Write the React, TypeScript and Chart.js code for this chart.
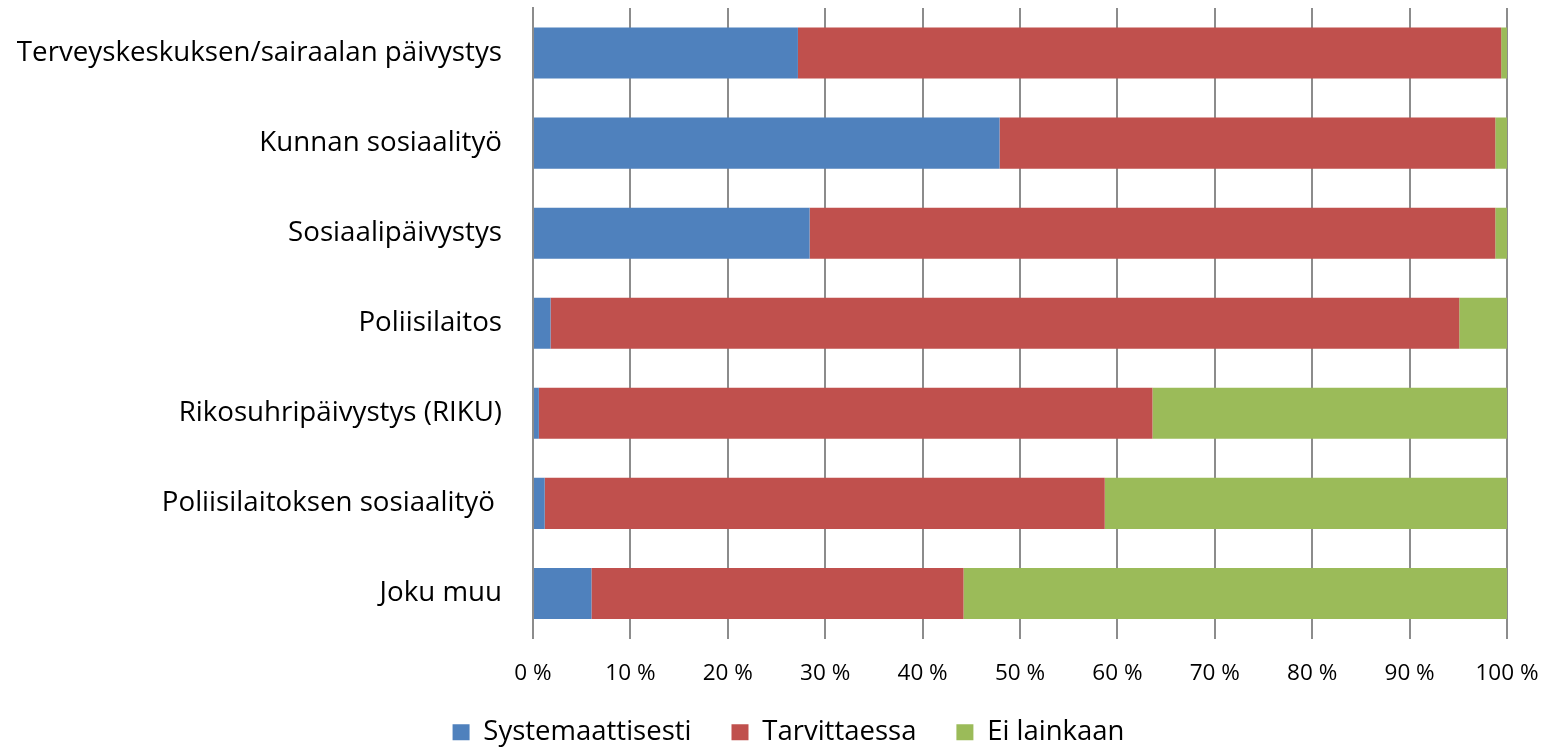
import React, { useEffect, useRef } from "react";
import { Chart, registerables } from "chart.js";

Chart.register(...registerables);

const categories = [
  "Terveyskeskuksen/sairaalan päivystys",
  "Kunnan sosiaalityö",
  "Sosiaalipäivystys",
  "Poliisilaitos",
  "Rikosuhripäivystys (RIKU)",
  "Poliisilaitoksen sosiaalityö ",
  "Joku muu",
];

const systemaattisesti = [27.2, 47.9, 28.4, 1.8, 0.6, 1.2, 6.0];
const tarvittaessa = [72.2, 50.9, 70.4, 93.3, 63.0, 57.5, 38.2];
const eiLainkaan = [0.6, 1.2, 1.2, 4.9, 36.4, 41.3, 55.8];

const xTicks = [0, 10, 20, 30, 40, 50, 60, 70, 80, 90, 100];

const FONT = "'Open Sans', sans-serif";

export default function App() {
  const ref = useRef<HTMLCanvasElement | null>(null);

  useEffect(() => {
    if (!ref.current) return;
    const chart = new Chart(ref.current, {
      type: "bar",
      data: {
        labels: categories,
        datasets: [
          { label: "Systemaattisesti", data: systemaattisesti, backgroundColor: "#4F81BD" },
          { label: "Tarvittaessa", data: tarvittaessa, backgroundColor: "#C0504D" },
          { label: "Ei lainkaan", data: eiLainkaan, backgroundColor: "#9BBB59" },
        ],
      },
      options: {
        indexAxis: "y",
        animation: false,
        responsive: true,
        maintainAspectRatio: false,
        datasets: { bar: { categoryPercentage: 1, barPercentage: 0.567 } },
        layout: { padding: { top: 8, right: 35, left: 70, bottom: 0 } },
        plugins: {
          tooltip: { enabled: false },
          legend: {
            position: "bottom",
            labels: {
              font: { family: FONT, size: 27.5 },
              color: "#000",
              boxWidth: 17,
              boxHeight: 16,
              padding: 40,
            },
          },
        },
        scales: {
          x: {
            stacked: true,
            min: 0,
            max: 100,
            afterBuildTicks: (scale: any) => {
              scale.ticks = xTicks.map((v) => ({ value: v }));
            },
            afterFit: (scale: any) => {
              scale.height = 40;
              scale.paddingLeft = 0;
              scale.paddingRight = 0;
              scale._computeLabelArea = () => undefined;
            },
            grid: {
              color: "#8c8c8c",
              lineWidth: 2,
              drawTicks: false,
            },
            border: { display: false },
            ticks: {
              padding: 22,
              font: { family: FONT, size: 22.5 },
              color: "#000",
              callback: (v: any) => `${v} %`,
            },
          },
          y: {
            stacked: true,
            afterFit: (scale: any) => {
              scale.width = 463;
              scale.paddingTop = 0;
              scale.paddingBottom = 0;
              scale._computeLabelArea = () => undefined;
            },
            grid: { display: false, drawTicks: false },
            border: { display: true, color: "#8c8c8c", width: 2 },
            ticks: {
              padding: 31,
              font: { family: FONT, size: 27.7 },
              color: "#000",
            },
          },
        },
      },
    });
    return () => chart.destroy();
  }, []);

  return (
    <div style={{ position: "fixed", left: 0, top: 0, width: 1542, height: 747, overflow: "hidden", background: "#fff" }}>
      <div style={{ position: "relative", width: 1542, height: 756 }}>
        <canvas ref={ref} />
      </div>
    </div>
  );
}
